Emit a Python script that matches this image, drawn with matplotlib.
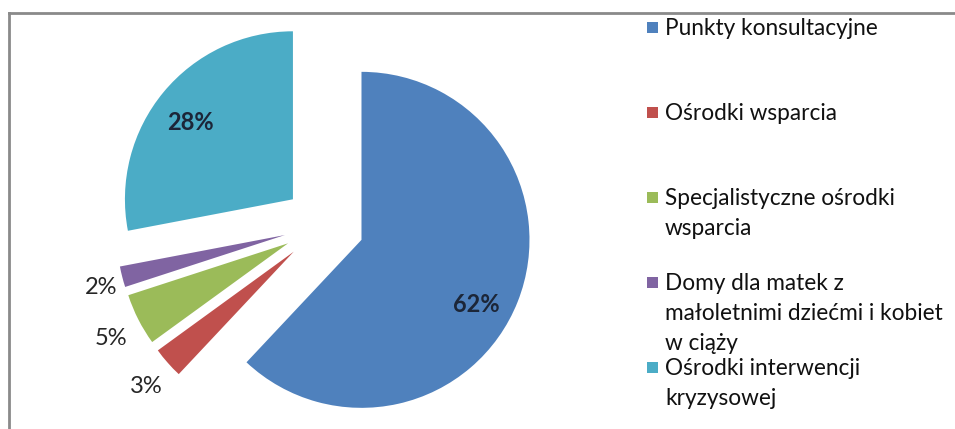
import numpy as np
import matplotlib
matplotlib.use("Agg")
import matplotlib.pyplot as plt
from matplotlib.patches import Rectangle
from matplotlib.lines import Line2D

categories = [
    "Punkty konsultacyjne",
    "Ośrodki wsparcia",
    "Specjalistyczne ośrodki\nwsparcia",
    "Domy dla matek z\nmałoletnimi dziećmi i kobiet\nw ciąży",
    "Ośrodki interwencji\nkryzysowej",
]
values = [62, 3, 5, 2, 28]
labels = ["62%", "3%", "5%", "2%", "28%"]
colors = ["#4F81BD", "#C0504D", "#9BBB59", "#8064A2", "#4BACC6"]

W, H = 955, 429
plt.rcParams["font.family"] = ["Lato", "DejaVu Sans"]

fig = plt.figure(figsize=(W / 100, H / 100), dpi=100)
ax = fig.add_axes([0, 0, 1, 1])

# pie laid out in pixel units (y measured upward); explode is absolute here
R = 168
cx, cy = 324, H - 225
wedges, _ = ax.pie(values, colors=colors, startangle=90, counterclock=False,
                   radius=R, center=(cx, cy), explode=[0.24 * R] * 5,
                   wedgeprops=dict(linewidth=0))

# percentage labels: big slices inside, small ones outside
dist = [0.77, 1.17, 1.18, 1.13, 0.78]
dang = [-6, 0, 0, 0, 1]
for w, lab, d, a, v in zip(wedges, labels, dist, dang, values):
    mid = np.deg2rad((w.theta1 + w.theta2) / 2 + a)
    x = w.center[0] + d * R * np.cos(mid)
    y = w.center[1] + d * R * np.sin(mid) - 5
    inside = v > 10
    ax.text(x, y, lab, ha="center", va="center", fontsize=17,
            fontweight="bold" if inside else "normal",
            color="#1c2638" if inside else "#262626")

# legend drawn by hand to keep the Excel-like spacing
ly0 = H - 27
for i, (cat, col) in enumerate(zip(categories, colors)):
    y = ly0 - i * 85
    ax.add_patch(Rectangle((647, y - 6), 11, 11, color=col, lw=0))
    ax.text(665, y + 9, cat, ha="left", va="top", fontsize=16.3,
            color="#111111", linespacing=1.52)

# chart frame (top and left edge visible)
ax.add_line(Line2D([9, 9], [0, H - 13], color="#8a8a8a", lw=2))
ax.add_line(Line2D([9, W], [H - 13, H - 13], color="#8a8a8a", lw=2))

ax.set_xlim(0, W)
ax.set_ylim(0, H)
ax.set_aspect("auto")
ax.axis("off")

fig.savefig("out.png", dpi=100)
